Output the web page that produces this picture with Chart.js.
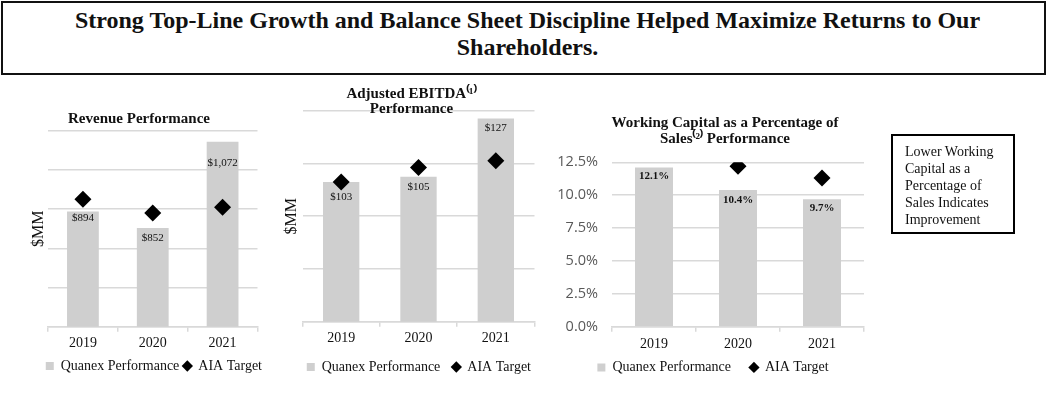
<!DOCTYPE html>
<html>
<head>
<meta charset="utf-8">
<script src="https://cdn.jsdelivr.net/npm/chart.js@4.4.1/dist/chart.umd.min.js"></script>
<style>
  body { margin: 0; width: 1058px; height: 400px; background: #fff; position: relative; overflow: hidden;
         font-family: 'Liberation Serif', 'Times New Roman', serif; color: #111; }
  .headline { position: absolute; left: 1px; top: 1px; width: 1045px; height: 74px; box-sizing: border-box;
              border: 2px solid #111; text-align: center; font-weight: bold; font-size: 24px; line-height: 27px;
              padding: 4px 0 0 8px; }
  .note { position: absolute; left: 891px; top: 134px; width: 124px; height: 100px; box-sizing: border-box;
          border: 2px solid #000; font-size: 14px; line-height: 17px; padding: 7px 0 0 12px; }
  canvas { position: absolute; }
</style>
</head>
<body>
<div class="headline">Strong Top-Line Growth and Balance Sheet Discipline Helped Maximize Returns to Our<br>Shareholders.</div>

<canvas id="revenueChart" width="254" height="290" style="left:12px; top:100px;"></canvas>
<canvas id="ebitdaChart" width="263" height="310" style="left:280px; top:80px;"></canvas>
<canvas id="wcChart" width="360" height="300" style="left:545px; top:100px;"></canvas>

<div class="note">Lower Working<br>Capital as a<br>Percentage of<br>Sales Indicates<br>Improvement</div>

<script>
// data
const years = ["2019", "2020", "2021"];

const revenue = [894, 852, 1072];
const revenueTarget = [925, 890, 905];
const revenueLabels = ["$894", "$852", "$1,072"];

const ebitda = [103, 105, 127];
const ebitdaTarget = [103, 108.5, 111];
const ebitdaLabels = ["$103", "$105", "$127"];

const workingCap = [12.1, 10.4, 9.7];
const workingCapTarget = [null, 12.2, 11.3];
const workingCapLabels = ["12.1%", "10.4%", "9.7%"];

const BAR_GRAY = "#cfcfcf";
const GRID = "#d9d9d9";
const INK = "#111";

Chart.defaults.font.family = "'Liberation Serif', 'Times New Roman', serif";
Chart.defaults.color = INK;

// value labels written inside the bars
function barLabels(texts, offsets, font) {
  return {
    id: "barLabels",
    afterDatasetsDraw(chart) {
      const meta = chart.getDatasetMeta(1);
      const ctx = chart.ctx;
      ctx.save();
      ctx.font = font;
      ctx.fillStyle = INK;
      ctx.textAlign = "center";
      ctx.textBaseline = "middle";
      meta.data.forEach((bar, i) => {
        ctx.fillText(texts[i], bar.x, bar.y + offsets[i]);
      });
      ctx.restore();
    },
  };
}

// nudge the legend box after layout
function legendShift(dx, dy) {
  return {
    id: "legendShift",
    afterLayout(chart) {
      const lg = chart.legend;
      lg.left += dx; lg.right += dx;
      lg.top += dy; lg.bottom += dy;
    },
  };
}

function buildChart(id, o) {
  const scales = {
    x: {
      grid: { drawOnChartArea: false, color: GRID, lineWidth: 1.5, tickLength: 5 },
      border: { color: GRID, width: 1.5 },
      ticks: { font: { size: 14 }, color: INK, padding: o.xTickPad },
    },
    y: {
      min: o.yMin,
      max: o.yMax,
      ticks: {
        stepSize: o.yStep,
        display: o.showYTicks,
        padding: 14,
        color: "#595959",
        font: { family: "'Open Sans', sans-serif", size: 14.5 },
        callback: (v) => v.toFixed(1) + "%",
      },
      grid: { color: GRID, lineWidth: 1.5, drawTicks: false },
      border: { display: false },
      title: {
        display: o.yTitle,
        text: "$MM",
        font: { size: 16 },
        color: INK,
        padding: { top: o.yTitlePad, bottom: 0 },
      },
      afterFit: (s) => { s.width = o.yAxisW; },
    },
  };
  if (o.rightPad) {
    scales.pad = {
      type: "linear",
      position: "right",
      grid: { display: false },
      ticks: { display: false },
      border: { display: false },
      afterFit: (s) => { s.width = o.rightPad; },
    };
  }

  return new Chart(document.getElementById(id), {
    type: "bar",
    data: {
      labels: years,
      datasets: [
        {
          type: "line",
          label: "AIA Target",
          data: o.target,
          showLine: false,
          pointStyle: "rectRot",
          pointRadius: 8.5,
          pointBackgroundColor: "#000",
          pointBorderColor: "#000",
          pointBorderWidth: 0,
          borderColor: "#000",
          backgroundColor: "#000",
        },
        {
          label: "Quanex Performance",
          data: o.values,
          backgroundColor: BAR_GRAY,
          pointStyle: "rect",
          barPercentage: o.barPct,
          categoryPercentage: 1,
        },
      ],
    },
    options: {
      responsive: false,
      animation: false,
      events: [],
      layout: { padding: { bottom: o.padBottom } },
      plugins: {
        title: {
          display: true,
          text: o.title,
          color: INK,
          font: { size: 15, weight: "bold", lineHeight: o.titleLH },
          padding: o.titlePad,
        },
        legend: {
          position: "bottom",
          reverse: true,
          align: o.legendAlign,
          labels: {
            usePointStyle: true,
            boxWidth: 8,
            boxHeight: 8,
            padding: o.legendPad,
            color: INK,
            font: { size: 14 },
          },
        },
        tooltip: { enabled: false },
      },
      scales: scales,
    },
    plugins: [
      barLabels(o.labels, o.labelOffsets, o.labelFont),
      legendShift(o.legendDx, o.legendDy),
    ],
  });
}

// Revenue
buildChart("revenueChart", {
  title: "Revenue Performance",
  titleLH: 1.05,
  titlePad: { top: 11, bottom: 4 },
  values: revenue,
  target: revenueTarget,
  labels: revenueLabels,
  labelOffsets: [7, 10, 21],
  labelFont: "11px 'Liberation Serif', serif",
  yMin: 600, yMax: 1100, yStep: 100,
  showYTicks: false,
  yTitle: true, yTitlePad: 17, yAxisW: 36,
  xTickPad: 3,
  legendPad: 4, legendAlign: "end", legendDx: 0, legendDy: 0.5,
  padBottom: 7.5,
  barPct: 0.455,
});

// Adjusted EBITDA
buildChart("ebitdaChart", {
  title: ["Adjusted EBITDA\u207D\u00B9\u207E", "Performance"],
  titleLH: 1.0,
  titlePad: { top: 7, bottom: -6.3 },
  values: ebitda,
  target: ebitdaTarget,
  labels: ebitdaLabels,
  labelOffsets: [15.5, 10.5, 9.5],
  labelFont: "11px 'Liberation Serif', serif",
  yMin: 50, yMax: 130, yStep: 20,
  showYTicks: false,
  yTitle: true, yTitlePad: 2, yAxisW: 22.5,
  xTickPad: 3,
  legendPad: 12, legendAlign: "end", legendDx: 0, legendDy: -1.5,
  padBottom: 4.5,
  barPct: 0.47,
});

// Working capital
buildChart("wcChart", {
  title: ["Working Capital as a Percentage of", "Sales\u207D\u00B2\u207E Performance"],
  titleLH: 1.067,
  titlePad: { top: 15.3, bottom: 15 },
  values: workingCap,
  target: workingCapTarget,
  labels: workingCapLabels,
  labelOffsets: [8.3, 10, 9.4],
  labelFont: "bold 11px 'Liberation Serif', serif",
  yMin: 0, yMax: 12.5, yStep: 2.5,
  showYTicks: true,
  yTitle: false, yTitlePad: 0, yAxisW: 67,
  xTickPad: 4,
  legendPad: 19, legendAlign: "center", legendDx: -12, legendDy: -15.1,
  padBottom: 0.5,
  barPct: 0.452,
  rightPad: 41,
});
</script>
</body>
</html>
